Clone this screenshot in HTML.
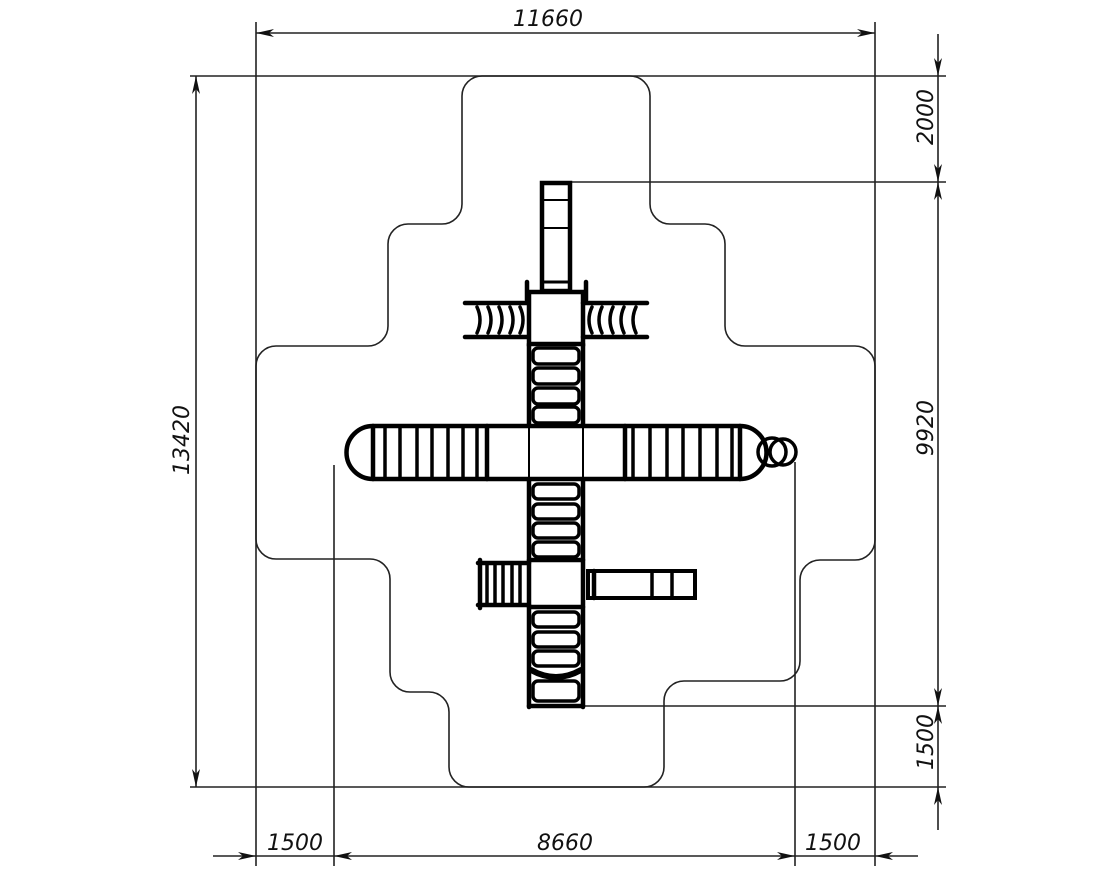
<!DOCTYPE html>
<html><head><meta charset="utf-8"><style>
html,body{margin:0;padding:0;background:#fff;}
svg{display:block;}
text{font-family:"DejaVu Sans","Liberation Sans",sans-serif;font-style:italic;font-size:22px;fill:#111;}
</style></head><body>
<svg width="1110" height="879" viewBox="0 0 1110 879" xmlns="http://www.w3.org/2000/svg">
<defs>
<marker id="a" viewBox="0 0 18 8" refX="18" refY="4" markerWidth="18" markerHeight="8" markerUnits="userSpaceOnUse" orient="auto-start-reverse">
<path d="M0,0 L18,4 L0,8 L5,4 Z" fill="#111"/></marker>
</defs>
<g stroke="#222" stroke-width="1.6" fill="none">
<line x1="256" y1="22" x2="256" y2="866"/>
<line x1="875" y1="22" x2="875" y2="866"/>
<line x1="190" y1="76" x2="946" y2="76"/>
<line x1="190" y1="787" x2="946" y2="787"/>
<line x1="334" y1="465" x2="334" y2="866"/>
<line x1="795" y1="462" x2="795" y2="866"/>
<line x1="570" y1="182" x2="946" y2="182"/>
<line x1="584" y1="706" x2="946" y2="706"/>
<line x1="256" y1="33" x2="875" y2="33" marker-start="url(#a)" marker-end="url(#a)"/>
<line x1="196" y1="76" x2="196" y2="787" marker-start="url(#a)" marker-end="url(#a)"/>
<line x1="938" y1="34" x2="938" y2="76" marker-end="url(#a)"/>
<line x1="938" y1="76" x2="938" y2="182" marker-end="url(#a)"/>
<line x1="938" y1="182" x2="938" y2="706" marker-start="url(#a)" marker-end="url(#a)"/>
<line x1="938" y1="706" x2="938" y2="787" marker-start="url(#a)"/>
<line x1="938" y1="830" x2="938" y2="787" marker-end="url(#a)"/>
<line x1="213" y1="856" x2="256" y2="856" marker-end="url(#a)"/>
<line x1="256" y1="856" x2="334" y2="856"/>
<line x1="334" y1="856" x2="795" y2="856" marker-start="url(#a)" marker-end="url(#a)"/>
<line x1="795" y1="856" x2="875" y2="856"/>
<line x1="918" y1="856" x2="875" y2="856" marker-end="url(#a)"/>
<path d="M482 76 H630 A20 20 0 0 1 650 96 V204 A20 20 0 0 0 670 224 H705 A20 20 0 0 1 725 244 V326 A20 20 0 0 0 745 346 H855 A20 20 0 0 1 875 366 V540 A20 20 0 0 1 855 560 H820 A20 20 0 0 0 800 580 V661 A20 20 0 0 1 780 681 H684 A20 20 0 0 0 664 701 V767 A20 20 0 0 1 644 787 H469 A20 20 0 0 1 449 767 V712 A20 20 0 0 0 429 692 H410 A20 20 0 0 1 390 672 V579 A20 20 0 0 0 370 559 H276 A20 20 0 0 1 256 539 V366 A20 20 0 0 1 276 346 H368 A20 20 0 0 0 388 326 V244 A20 20 0 0 1 408 224 H442 A20 20 0 0 0 462 204 V96 A20 20 0 0 1 482 76 Z"/>
</g>
<text x="548" y="26" text-anchor="middle">11660</text>
<text transform="translate(189,440) rotate(-90)" text-anchor="middle">13420</text>
<text transform="translate(933,117) rotate(-90)" text-anchor="middle">2000</text>
<text transform="translate(933,428) rotate(-90)" text-anchor="middle">9920</text>
<text transform="translate(933,742) rotate(-90)" text-anchor="middle">1500</text>
<text x="295" y="850" text-anchor="middle">1500</text>
<text x="565" y="850" text-anchor="middle">8660</text>
<text x="833" y="850" text-anchor="middle">1500</text>
<g stroke="#000" stroke-width="4.5" fill="none" stroke-linecap="round">
<rect x="542" y="183" width="28" height="108"/>
<line x1="542" y1="200" x2="570" y2="200" stroke-width="2"/>
<line x1="542" y1="228" x2="570" y2="228" stroke-width="2"/>
<line x1="542" y1="282" x2="570" y2="282" stroke-width="3"/>
<rect x="529" y="292" width="54" height="52"/>
<line x1="527" y1="282" x2="527" y2="300"/>
<line x1="586" y1="282" x2="586" y2="300"/>
<line x1="465" y1="303" x2="527" y2="303"/>
<line x1="465" y1="337" x2="527" y2="337"/>
<path d="M477 307 q6 13 0 26 M488 307 q6 13 0 26 M499 307 q6 13 0 26 M510 307 q6 13 0 26 M520 307 q6 13 0 26" stroke-width="3.5"/>
<line x1="583" y1="303" x2="647" y2="303"/>
<line x1="583" y1="337" x2="647" y2="337"/>
<path d="M592 307 q-6 13 0 26 M602 307 q-6 13 0 26 M613 307 q-6 13 0 26 M624 307 q-6 13 0 26 M636 307 q-6 13 0 26" stroke-width="3.5"/>
<line x1="529" y1="344" x2="529" y2="426"/>
<line x1="583" y1="344" x2="583" y2="426"/>
<g stroke-width="3.5">
<rect x="533" y="348" width="46" height="16" rx="5"/>
<rect x="533" y="368" width="46" height="16" rx="5"/>
<rect x="533" y="388" width="46" height="16" rx="5"/>
<rect x="533" y="407" width="46" height="16" rx="5"/>
</g>
<path d="M373 426 H740 A26 26 0 0 1 740 479 H373 A26 26 0 0 1 373 426 Z"/>
<line x1="487" y1="426" x2="487" y2="479"/>
<line x1="625" y1="426" x2="625" y2="479"/>
<line x1="373" y1="426" x2="373" y2="479"/>
<line x1="740" y1="426" x2="740" y2="479"/>
<g stroke-width="3.5">
<line x1="385" y1="428" x2="385" y2="477"/><line x1="400" y1="428" x2="400" y2="477"/><line x1="417" y1="428" x2="417" y2="477"/><line x1="432" y1="428" x2="432" y2="477"/><line x1="448" y1="428" x2="448" y2="477"/><line x1="463" y1="428" x2="463" y2="477"/><line x1="477" y1="428" x2="477" y2="477"/>
<line x1="633" y1="428" x2="633" y2="477"/><line x1="650" y1="428" x2="650" y2="477"/><line x1="667" y1="428" x2="667" y2="477"/><line x1="683" y1="428" x2="683" y2="477"/><line x1="700" y1="428" x2="700" y2="477"/><line x1="717" y1="428" x2="717" y2="477"/><line x1="732" y1="428" x2="732" y2="477"/>
</g>
<circle cx="772" cy="452" r="14" stroke-width="3.5"/>
<circle cx="783" cy="452" r="13" stroke-width="3.5"/>
<line x1="529" y1="426" x2="529" y2="479" stroke-width="2"/>
<line x1="583" y1="426" x2="583" y2="479" stroke-width="2"/>
<line x1="529" y1="479" x2="529" y2="707"/>
<line x1="583" y1="479" x2="583" y2="707"/>
<g stroke-width="3.5">
<rect x="533" y="484" width="46" height="15" rx="5"/>
<rect x="533" y="504" width="46" height="15" rx="5"/>
<rect x="533" y="523" width="46" height="15" rx="5"/>
<rect x="533" y="542" width="46" height="15" rx="5"/>
</g>
<line x1="529" y1="560" x2="583" y2="560"/>
<line x1="529" y1="607" x2="583" y2="607"/>
<line x1="478" y1="563" x2="529" y2="563"/>
<line x1="478" y1="605" x2="529" y2="605"/>
<line x1="480" y1="560" x2="480" y2="608"/>
<g stroke-width="3.5">
<line x1="487" y1="563" x2="487" y2="605"/><line x1="495" y1="563" x2="495" y2="605"/><line x1="503" y1="563" x2="503" y2="605"/><line x1="512" y1="563" x2="512" y2="605"/><line x1="520" y1="563" x2="520" y2="605"/>
</g>
<rect x="588" y="571" width="107" height="27" stroke-width="4"/>
<line x1="594" y1="571" x2="594" y2="598"/>
<line x1="652" y1="571" x2="652" y2="598" stroke-width="3.5"/>
<line x1="672" y1="571" x2="672" y2="598" stroke-width="3.5"/>
<g stroke-width="3.5">
<rect x="533" y="612" width="46" height="15" rx="5"/>
<rect x="533" y="632" width="46" height="15" rx="5"/>
<rect x="533" y="651" width="46" height="15" rx="5"/>
<rect x="533" y="681" width="46" height="20" rx="5"/>
</g>
<path d="M531 670 Q556 684 581 670" stroke-width="6"/>
<line x1="529" y1="706" x2="583" y2="706"/>
</g>
</svg>
</body></html>
